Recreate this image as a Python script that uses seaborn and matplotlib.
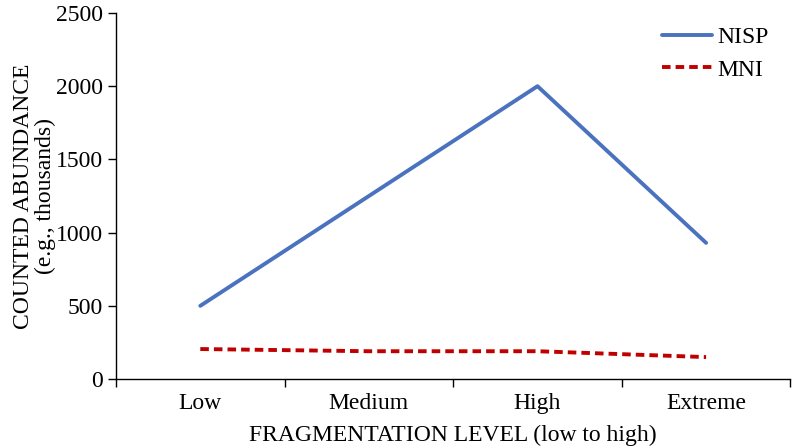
import matplotlib
matplotlib.use("Agg")
import matplotlib.pyplot as plt
import seaborn as sns
import pandas as pd

levels = ["Low", "Medium", "High", "Extreme"]
nisp = [500, 1250, 2000, 930]
mni = [205, 190, 190, 150]

sns.set_style("ticks")
plt.rcParams['font.family'] = ['Liberation Serif', 'DejaVu Serif']

df = pd.DataFrame({
    "level": levels * 2,
    "pos": list(range(len(levels))) * 2,
    "value": nisp + mni,
    "series": ["NISP"] * len(levels) + ["MNI"] * len(levels),
})

fig = plt.figure(figsize=(8, 4.47), dpi=100)
ax = fig.add_axes([0.145, 0.152, 0.843, 0.819])

sns.lineplot(data=df, x="pos", y="value", hue="series", style="series",
             palette={"NISP": "#4A72BE", "MNI": "#C00000"},
             dashes={"NISP": "", "MNI": (2.2, 1.3)},
             linewidth=2.8, ax=ax)

ax.set_xlim(-0.5, len(levels) - 0.5)
ax.set_ylim(0, 2500)
ax.set_yticks(range(0, 2501, 500))
ax.set_xticks([i - 0.5 for i in range(len(levels) + 1)])
ax.set_xticklabels([])
ax.set_xticks(range(len(levels)), minor=True)
ax.set_xticklabels(levels, minor=True)
ax.tick_params(axis="both", which="major", length=6, width=1, colors="black", labelsize=17)
ax.tick_params(axis="x", which="minor", length=0, pad=10, labelsize=17, colors="black")

for s in ["top", "right"]:
    ax.spines[s].set_visible(False)
for s in ["left", "bottom"]:
    ax.spines[s].set_color("black")
    ax.spines[s].set_linewidth(1)

ax.set_xlabel("FRAGMENTATION LEVEL (low to high)", fontsize=17, labelpad=8, color="black")
ax.set_ylabel("COUNTED ABUNDANCE\n(e.g., thousands)", fontsize=17, labelpad=0,
              linespacing=1.05, color="black")

leg = ax.legend(loc="upper right", frameon=False, fontsize=17, handlelength=2.1,
                handletextpad=0.25, bbox_to_anchor=(1.0, 1.02), labelspacing=0.45)
for t in leg.get_texts():
    t.set_color("black")
leg.set_title(None)

fig.savefig("out.png", dpi=100)
